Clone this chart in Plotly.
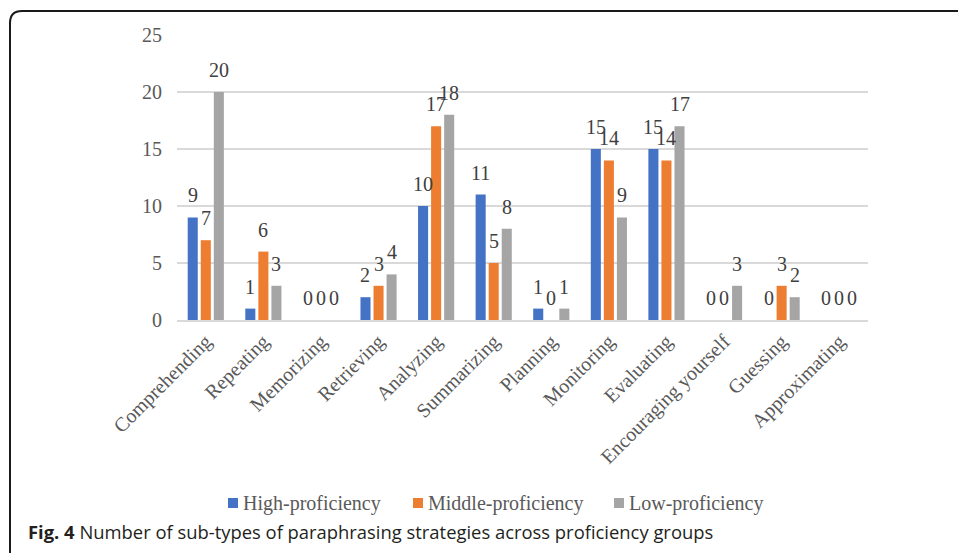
import plotly.graph_objects as go

categories = ["Comprehending", "Repeating", "Memorizing", "Retrieving", "Analyzing",
              "Summarizing", "Planning", "Monitoring", "Evaluating",
              "Encouraging yourself", "Guessing", "Approximating"]
high = [9, 1, 0, 2, 10, 11, 1, 15, 15, 0, 0, 0]
middle = [7, 6, 0, 3, 17, 5, 0, 14, 14, 0, 3, 0]
low = [20, 3, 0, 4, 18, 8, 1, 9, 17, 3, 2, 0]
series_names = ["High-proficiency", "Middle-proficiency", "Low-proficiency"]
colors = ["#4472C4", "#ED7D31", "#A5A5A5"]
y_ticks = [0, 5, 10, 15, 20, 25]

W, H = 958, 553
ML, MR, MT, MB = 177, 90, 35, 233
PW, PH = W - ML - MR, H - MT - MB
BARGAP, GROUPGAP = 0.32, 0.23

def px(x):
    return (x - ML) / PW

def py(y):
    return (H - MB - y) / PH

serif = "Liberation Serif, Times New Roman, serif"
fig = go.Figure()
series = [high, middle, low]
slot = PW / len(categories) * (1 - BARGAP) / len(series)
for i, (name, vals, col) in enumerate(zip(series_names, series, colors)):
    fig.add_trace(go.Bar(
        x=categories, y=vals, name=name, marker_color=col,
        marker_line_width=0, showlegend=False,
    ))
    # value labels sitting a little above each bar
    for cat, v in zip(categories, vals):
        fig.add_annotation(
            x=cat, y=v, xref="x", yref="y", text=str(v), showarrow=False,
            xshift=(i - 1) * slot, yshift=9, yanchor="bottom", xanchor="center",
            font=dict(family=serif, size=20, color="#404040"),
        )

# legend drawn as small squares with labels beneath the axis labels
legend_x = [228, 413, 614]
legend_y = 503
for name, col, lx in zip(series_names, colors, legend_x):
    fig.add_shape(type="rect", xref="paper", yref="paper",
                  x0=px(lx), x1=px(lx + 10), y0=py(legend_y + 5), y1=py(legend_y - 5),
                  fillcolor=col, line_width=0)
    fig.add_annotation(xref="paper", yref="paper", x=px(lx + 13), y=py(legend_y),
                       xanchor="left", yanchor="middle", text=name, showarrow=False,
                       font=dict(family=serif, size=20, color="#595959"))

# rounded frame around the figure panel
x0, y0, x1, y1, r = 10, 11, 985, 590, 12
path = (f"M {px(x0)},{py(y1)} L {px(x0)},{py(y0 + r)} "
        f"Q {px(x0)},{py(y0)} {px(x0 + r)},{py(y0)} L {px(x1)},{py(y0)}")
fig.add_shape(type="path", xref="paper", yref="paper", path=path,
              line=dict(color="#1a1a1a", width=2))

fig.add_annotation(
    xref="paper", yref="paper", x=px(26), y=py(531), xanchor="left", yanchor="middle",
    text="<b>Fig. 4</b> Number of sub-types of paraphrasing strategies across proficiency groups",
    showarrow=False, font=dict(family="Open Sans, sans-serif", size=18.4, color="#231f20"),
)

fig.update_layout(
    width=W, height=H, margin=dict(l=ML, r=MR, t=MT, b=MB),
    paper_bgcolor="white", plot_bgcolor="white",
    barmode="group", bargap=BARGAP, bargroupgap=GROUPGAP,
    showlegend=False,
    xaxis=dict(tickangle=-45, tickfont=dict(family=serif, size=20, color="#595959"),
               showline=True, linecolor="#d9d9d9", linewidth=1.5, ticks=""),
    yaxis=dict(range=[0, 25], tickvals=y_ticks, showgrid=True, gridcolor="#d9d9d9",
               gridwidth=1.5, zeroline=False, ticks="", ticklabelstandoff=14,
               tickfont=dict(family=serif, size=20, color="#595959")),
)

fig.write_html("out.html")
